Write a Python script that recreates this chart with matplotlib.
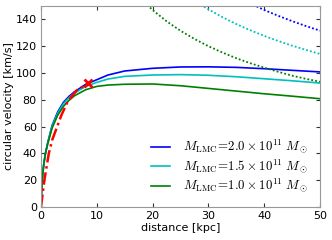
import numpy as np
import matplotlib
matplotlib.use("Agg")
import matplotlib.pyplot as plt

plt.rcParams['mathtext.fontset'] = 'cm'

# solid rotation curves
r = [0, 0.1, 0.2, 0.5, 0.8, 1.2, 2, 3, 4, 5, 6, 8, 10, 12, 15, 20, 25, 30, 35, 40, 45, 50]
v_20 = [0, 11, 20, 32, 40, 48, 61, 71, 78, 82.5, 86, 91.5, 95, 98.5, 101.5, 103.5, 104.5, 104.6, 104.2, 103.2, 102, 100.8]
v_15 = [0, 11, 20, 32, 40, 47.5, 60.5, 70, 77, 81.5, 85, 90, 93, 95.5, 97.5, 98.5, 98.8, 98.3, 97.2, 95.7, 94.2, 92.5]
v_10 = [0, 11, 20, 32, 40, 47, 59, 68.5, 75, 79.5, 83, 87.5, 90, 91, 91.6, 91.8, 90.5, 88.5, 86.5, 84.5, 82.7, 80.8]

# dotted curves
r_d10 = [18, 20, 22.5, 25, 27.5, 30, 32.5, 35, 37.5, 40, 42.5, 45, 47.5, 50]
d_10 = [155, 147, 138.6, 131.5, 125.4, 120, 115.3, 111, 107.3, 104, 100.9, 98, 95.6, 93.5]
r_d15 = [28, 30, 32.5, 35, 37.5, 40, 42.5, 45, 47.5, 50]
d_15 = [152.6, 147.5, 141.7, 136.5, 131.9, 127.7, 123.9, 120.4, 117.2, 114.2]
r_d20 = [38, 40, 42.5, 45, 47.5, 50]
d_20 = [151, 147, 142.7, 138.7, 135, 131.6]

# observed curve (red)
r_obs = [0, 0.3, 0.6, 1.0, 1.4, 2, 2.9, 3.6, 4.8, 6.4, 8.5]
v_obs = [0, 10, 20, 30, 40, 50, 60, 68, 79, 87, 92.5]
sun_r, sun_v = 8.5, 92.5

labels = [r'$M_{\rm LMC}\!=\!2.0\times10^{11}\ M_\odot$',
          r'$M_{\rm LMC}\!=\!1.5\times10^{11}\ M_\odot$',
          r'$M_{\rm LMC}\!=\!1.0\times10^{11}\ M_\odot$']

fig = plt.figure(figsize=(3.32, 2.4), dpi=100)
ax = fig.add_axes([0.1235, 0.1375, 0.8405, 0.8375])

ax.plot(r, v_20, color='b', lw=1.2, label=labels[0])
ax.plot(r, v_15, color='c', lw=1.2, label=labels[1])
ax.plot(r, v_10, color='g', lw=1.2, label=labels[2])
ax.plot(r_d20, d_20, color='b', lw=1.3, ls=(0, (1, 1.2)))
ax.plot(r_d15, d_15, color='c', lw=1.3, ls=(0, (1, 1.2)))
ax.plot(r_d10, d_10, color='g', lw=1.3, ls=(0, (1, 1.2)))
ax.plot(r_obs, v_obs, color='r', lw=1.8, ls=(0, (5, 1.5, 1, 1.5)))
ax.plot(sun_r, sun_v, 'x', color='r', ms=6, mew=2)

ax.set_xlim(0, 50)
ax.set_ylim(0, 150)
ax.set_xticks(np.arange(0, 51, 10))
ax.set_yticks(np.arange(0, 141, 20))
ax.tick_params(direction='in', top=True, right=True, labelsize=8, length=3, color='#333333', pad=3)
for s in ax.spines.values():
    s.set_color('#999999')
ax.set_xlabel('distance [kpc]', fontsize=8, labelpad=1)
ax.set_ylabel('circular velocity [km/s]', fontsize=8, labelpad=1)

ax.legend(loc='lower right', frameon=False, fontsize=9.3, handlelength=1.5,
          handletextpad=1.0, bbox_to_anchor=(1.0, 0.0), labelspacing=0.12)

fig.savefig('out.png', dpi=100)
